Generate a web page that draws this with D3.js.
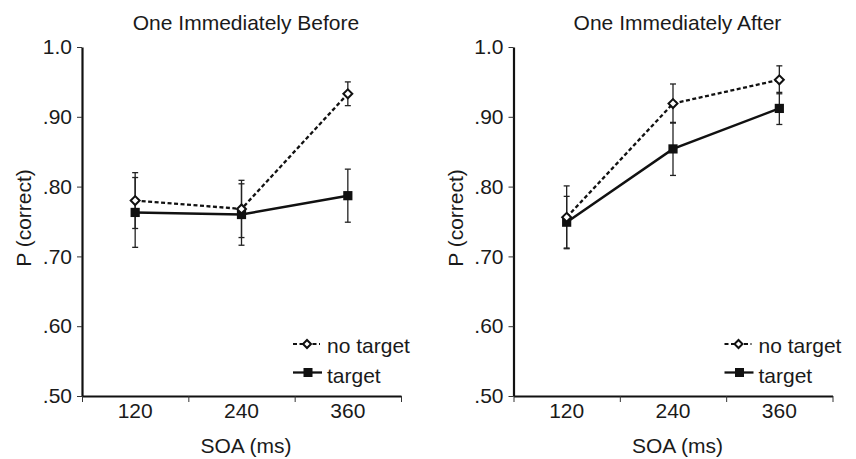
<!DOCTYPE html>
<html>
<head>
<meta charset="utf-8">
<script src="https://cdn.jsdelivr.net/npm/d3@7"></script>
<style>
  body { margin: 0; background: #fff; }
  svg text { font-family: "Liberation Sans", Arial, sans-serif; font-size: 21px; fill: #1a1a1a; }
</style>
</head>
<body>
<div id="graph"></div>
<script>
var soa = ["120", "240", "360"];
var yTicks = [0.5, 0.6, 0.7, 0.8, 0.9, 1.0];
var yTickLabels = [".50", ".60", ".70", ".80", ".90", "1.0"];
var seriesNames = ["no target", "target"];
var panelTitles = ["One Immediately Before", "One Immediately After"];

// values (mean, half error bar)
var beforeNoTarget = [0.780, 0.768, 0.933];
var beforeNoTargetErr = [0.040, 0.041, 0.017];
var beforeTarget = [0.763, 0.760, 0.787];
var beforeTargetErr = [0.050, 0.044, 0.038];
var afterNoTarget = [0.756, 0.919, 0.953];
var afterNoTargetErr = [0.045, 0.028, 0.020];
var afterTarget = [0.749, 0.854, 0.912];
var afterTargetErr = [0.037, 0.038, 0.023];

var svg = d3.select("#graph")
  .append("svg")
  .attr("width", 856)
  .attr("height", 459);

var yTop = 47, yBottom = 396;
var y = d3.scaleLinear().domain([0.5, 1.0]).range([yBottom, yTop]);

drawPanel(82, panelTitles[0], beforeNoTarget, beforeNoTargetErr, beforeTarget, beforeTargetErr);
drawPanel(513.5, panelTitles[1], afterNoTarget, afterNoTargetErr, afterTarget, afterTargetErr);

function drawPanel(x0, title, noT, noTErr, tar, tarErr) {
  var x1 = x0 + 319;
  var g = svg.append("g");
  var x = d3.scaleBand().domain(soa).range([x0, x1]).padding(0);
  var edges = d3.scaleLinear().domain([0, soa.length]).range([x0, x1]);
  var mid = (x0 + x1) / 2 + 4.5;

  // y axis
  var ya = g.append("g")
    .attr("transform", "translate(" + x0 + ",0)")
    .call(d3.axisLeft(y).tickValues(yTicks)
      .tickFormat(function (d, i) { return yTickLabels[i]; })
      .tickSize(5).tickSizeOuter(0).tickPadding(5));
  ya.select(".domain").attr("stroke", "#111").attr("stroke-width", 2.2);
  ya.selectAll(".tick line").attr("stroke", "#333");
  ya.selectAll("text").attr("fill", "#1a1a1a");

  // x axis: ticks on band edges, labels on centres
  var xa = g.append("g")
    .attr("transform", "translate(0," + yBottom + ")")
    .call(d3.axisBottom(edges).tickValues(d3.range(soa.length + 1))
      .tickFormat("").tickSize(6).tickSizeOuter(0));
  xa.select(".domain").attr("stroke", "#111").attr("stroke-width", 2.2);
  xa.selectAll(".tick line").attr("stroke", "#333");

  g.selectAll("text.xlab")
    .data(soa)
    .enter()
    .append("text")
    .attr("class", "xlab")
    .attr("x", function (d) { return x(d) + x.bandwidth() / 2; })
    .attr("y", 418)
    .attr("text-anchor", "middle")
    .text(function (d) { return d; });

  g.append("text")
    .attr("x", mid).attr("y", 30)
    .attr("text-anchor", "middle")
    .text(title);

  g.append("text")
    .attr("x", mid).attr("y", 453)
    .attr("text-anchor", "middle")
    .text("SOA (ms)");

  g.append("text")
    .attr("transform", "translate(" + (x0 - 51) + ",218) rotate(-90)")
    .attr("text-anchor", "middle")
    .text("P (correct)");

  var cx = function (d, i) { return x(soa[i]) + x.bandwidth() / 2; };

  // error bars
  [[noT, noTErr], [tar, tarErr]].forEach(function (s) {
    var eb = g.append("g").attr("stroke", "#222").attr("stroke-width", 1.3);
    s[0].forEach(function (v, i) {
      var px = cx(v, i), top = y(v + s[1][i]), bot = y(v - s[1][i]);
      eb.append("line").attr("x1", px).attr("x2", px).attr("y1", top).attr("y2", bot);
      eb.append("line").attr("x1", px - 3).attr("x2", px + 3).attr("y1", top).attr("y2", top);
      eb.append("line").attr("x1", px - 3).attr("x2", px + 3).attr("y1", bot).attr("y2", bot);
    });
  });

  var line = d3.line().x(function (d, i) { return cx(d, i); }).y(function (d) { return y(d); });

  g.append("path").datum(tar)
    .attr("d", line)
    .attr("fill", "none").attr("stroke", "#111").attr("stroke-width", 2.5);

  g.append("path").datum(noT)
    .attr("d", line)
    .attr("fill", "none").attr("stroke", "#111").attr("stroke-width", 2.3)
    .attr("stroke-dasharray", "4,2.5");

  g.selectAll("rect.tar")
    .data(tar)
    .enter()
    .append("rect")
    .attr("class", "tar")
    .attr("x", function (d, i) { return cx(d, i) - 4.6; })
    .attr("y", function (d) { return y(d) - 4.6; })
    .attr("width", 9.2).attr("height", 9.2)
    .attr("fill", "#111");

  g.selectAll("path.not")
    .data(noT)
    .enter()
    .append("path")
    .attr("class", "not")
    .attr("d", d3.symbol().type(d3.symbolSquare).size(40))
    .attr("transform", function (d, i) {
      return "translate(" + cx(d, i) + "," + y(d) + ") rotate(45)";
    })
    .attr("fill", "#fff").attr("stroke", "#111").attr("stroke-width", 2);

  // legend
  var lx = x0 + 211;
  var lg = g.append("g");
  lg.append("line")
    .attr("x1", lx).attr("x2", lx + 27).attr("y1", 344).attr("y2", 344)
    .attr("stroke", "#111").attr("stroke-width", 2).attr("stroke-dasharray", "4,2.5");
  lg.append("path")
    .attr("d", d3.symbol().type(d3.symbolSquare).size(32))
    .attr("transform", "translate(" + (lx + 14) + ",344) rotate(45)")
    .attr("fill", "#fff").attr("stroke", "#111").attr("stroke-width", 2);
  lg.append("line")
    .attr("x1", lx).attr("x2", lx + 29).attr("y1", 372.5).attr("y2", 372.5)
    .attr("stroke", "#111").attr("stroke-width", 2.3);
  lg.append("rect")
    .attr("x", lx + 10.5).attr("y", 368).attr("width", 9).attr("height", 9)
    .attr("fill", "#111");
  lg.selectAll("text")
    .data(seriesNames)
    .enter()
    .append("text")
    .attr("x", lx + 34)
    .attr("y", function (d, i) { return i === 0 ? 353 : 383; })
    .text(function (d) { return d; });
}
</script>
</body>
</html>
